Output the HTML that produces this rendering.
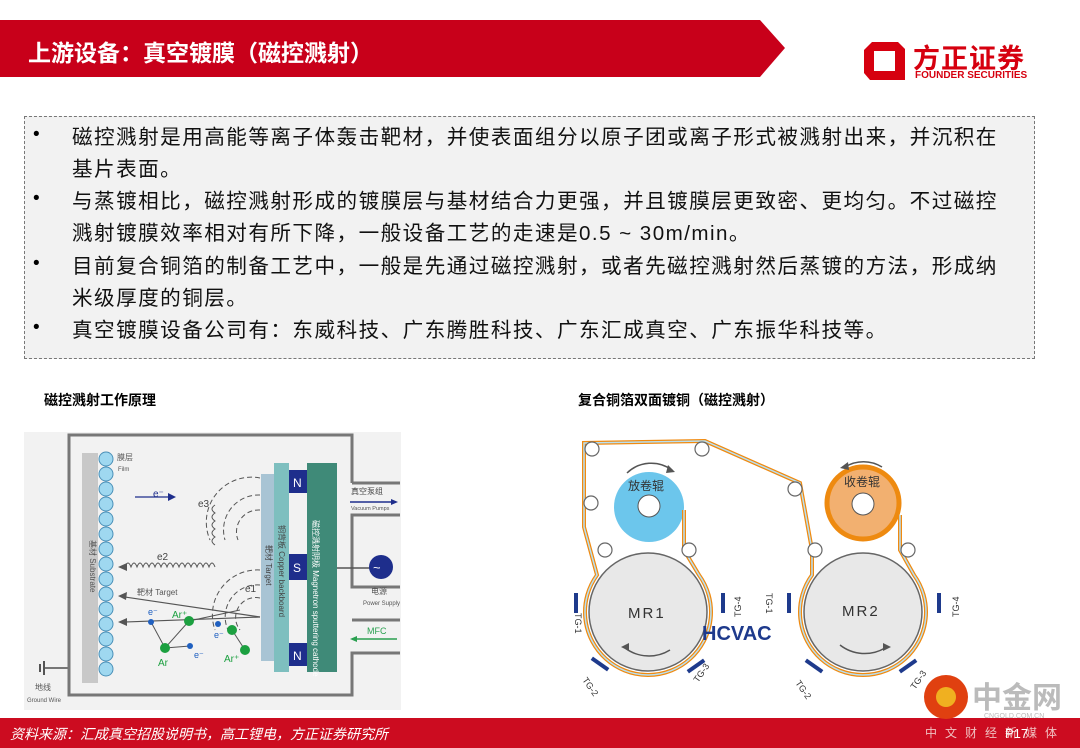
<!DOCTYPE html>
<html><head><meta charset="utf-8"><style>
*{margin:0;padding:0;box-sizing:border-box}
body{width:1080px;height:748px;position:relative;background:#fff;font-family:"Liberation Sans","Noto Sans CJK SC",sans-serif;overflow:hidden}
.abs{position:absolute}
.box{left:24px;top:116px;width:1011px;height:243px;background:#f2f2f2;border:1.5px dashed #777}
.li{position:absolute;left:72px;font-size:20.6px;color:#111;line-height:32px;width:970px;white-space:nowrap;letter-spacing:1.45px}
.dot{position:absolute;left:33px;font-size:19px}
</style></head><body>
<svg class="abs" style="left:0;top:0" width="1080" height="748">
<polygon points="0,20 760,20 785,48 760,77 0,77" fill="#c8001a"/>
<rect x="0" y="718" width="1080" height="30" fill="#cc0c20"/>
<polygon points="872,42 898,42 905,49 905,80 870,80 864,73 864,50" fill="#d6000f"/>
<rect x="874" y="51" width="21" height="20" fill="#fff"/>
</svg>
<div class="abs" style="left:28px;top:34px;color:#fff;font-size:23px;font-weight:bold">上游设备：真空镀膜（磁控溅射）</div>
<div class="abs" style="left:913px;top:37px;color:#d6000f;font-size:27px;font-weight:bold;letter-spacing:1px">方正证券</div>
<div class="abs" style="left:915px;top:70px;color:#d6000f;font-size:10px;font-weight:bold">FOUNDER SECURITIES</div>
<div class="abs box"></div>
<div class="dot" style="top:124px">•</div>
<div class="li" style="top:122px">磁控溅射是用高能等离子体轰击靶材，并使表面组分以原子团或离子形式被溅射出来，并沉积在<br>基片表面。</div>
<div class="dot" style="top:188px">•</div>
<div class="li" style="top:186px">与蒸镀相比，磁控溅射形成的镀膜层与基材结合力更强，并且镀膜层更致密、更均匀。不过磁控<br>溅射镀膜效率相对有所下降，一般设备工艺的走速是0.5 ~ 30m/min。</div>
<div class="dot" style="top:253px">•</div>
<div class="li" style="top:251px">目前复合铜箔的制备工艺中，一般是先通过磁控溅射，或者先磁控溅射然后蒸镀的方法，形成纳<br>米级厚度的铜层。</div>
<div class="dot" style="top:317px">•</div>
<div class="li" style="top:315px">真空镀膜设备公司有：东威科技、广东腾胜科技、广东汇成真空、广东振华科技等。</div>
<div class="abs" style="left:44px;top:390px;font-size:14px;font-weight:bold">磁控溅射工作原理</div>
<div class="abs" style="left:578px;top:390px;font-size:14px;font-weight:bold">复合铜箔双面镀铜（磁控溅射）</div>

<svg class="abs" style="left:0;top:0" width="1080" height="748" font-family="Liberation Sans,Noto Sans CJK SC,sans-serif">
<rect x="24" y="432" width="377" height="278" fill="#f2f2f2"/>
<polyline points="352,483 352,435 69,435 69,695 352,695 352,653 400,653" fill="none" stroke="#777" stroke-width="3"/>
<polyline points="352,620 400,620" stroke="#777" stroke-width="3"/>
<polyline points="400,483 352,483" stroke="#777" stroke-width="3"/>
<polyline points="400,515 352,515 352,587 400,587" fill="none" stroke="#777" stroke-width="3"/>
<line x1="45" y1="668" x2="69" y2="668" stroke="#777" stroke-width="2"/>
<line x1="44" y1="661" x2="44" y2="675" stroke="#555" stroke-width="2"/>
<line x1="40" y1="664" x2="40" y2="672" stroke="#555" stroke-width="2"/>
<text x="35" y="690" font-size="8" fill="#555">地线</text><text x="27" y="702" font-size="6" fill="#555">Ground Wire</text>
<rect x="82" y="453" width="16" height="230" fill="#c8c8c8"/>
<g fill="#9fd8f0" stroke="#4a90b8" stroke-width="1">
<circle cx="106" cy="459" r="7"/><circle cx="106" cy="474" r="7"/><circle cx="106" cy="489" r="7"/><circle cx="106" cy="504" r="7"/><circle cx="106" cy="519" r="7"/><circle cx="106" cy="534" r="7"/><circle cx="106" cy="549" r="7"/><circle cx="106" cy="564" r="7"/><circle cx="106" cy="579" r="7"/><circle cx="106" cy="594" r="7"/><circle cx="106" cy="609" r="7"/><circle cx="106" cy="624" r="7"/><circle cx="106" cy="639" r="7"/><circle cx="106" cy="654" r="7"/><circle cx="106" cy="669" r="7"/></g>
<text x="117" y="460" font-size="8" fill="#555">膜层</text><text x="118" y="471" font-size="6" fill="#555">Film</text>
<rect x="261" y="474" width="13" height="187" fill="#a8c4d4"/>
<rect x="274" y="463" width="15" height="209" fill="#7ebfbf"/>
<rect x="289" y="470" width="18" height="23" fill="#1e2e8c"/><rect x="289" y="554" width="18" height="26" fill="#1e2e8c"/><rect x="289" y="643" width="18" height="23" fill="#1e2e8c"/>
<text x="293" y="487" font-size="12" fill="#fff">N</text><text x="293" y="572" font-size="12" fill="#fff">S</text><text x="293" y="660" font-size="12" fill="#fff">N</text>
<rect x="307" y="463" width="30" height="209" fill="#3f8a78"/>
<line x1="337" y1="568" x2="370" y2="568" stroke="#555" stroke-width="1.5"/>
<circle cx="381" cy="567" r="12" fill="#1e2e8c"/><text x="373" y="572" font-size="13" fill="#fff">~</text>
<text x="371" y="594" font-size="8" fill="#555">电源</text><text x="363" y="605" font-size="6" fill="#555">Power Supply</text>
<text x="351" y="494" font-size="8" fill="#444">真空泵组</text><line x1="350" y1="502" x2="395" y2="502" stroke="#1e2e8c" stroke-width="1.5"/><polygon points="398,502 391,499 391,505" fill="#1e2e8c"/>
<text x="351" y="510" font-size="5.5" fill="#555">Vacuum Pumps</text>
<text x="367" y="634" font-size="9" fill="#2aa050">MFC</text><line x1="352" y1="639" x2="397" y2="639" stroke="#2aa050" stroke-width="1.5"/><polygon points="350,639 357,636 357,642" fill="#2aa050"/>
<text x="153" y="497" font-size="10" fill="#1e2e8c">e⁻</text><line x1="135" y1="497" x2="170" y2="497" stroke="#1e2e8c" stroke-width="1.2"/><polygon points="176,497 168,493 168,501" fill="#1e2e8c"/>
<g fill="none" stroke="#555" stroke-dasharray="5,3" stroke-width="1">
<path d="M260,478 A45,45 0 0 0 210,540"/><path d="M260,495 A35,35 0 0 0 225,540"/><path d="M260,510 A22,22 0 0 0 238,540"/>
<path d="M260,570 A45,45 0 0 0 215,630"/><path d="M260,585 A32,32 0 0 0 228,630"/><path d="M260,598 A20,20 0 0 0 240,630"/></g>
<path d="M125,567 q3,-8 6,0 q3,-8 6,0 q3,-8 6,0 q3,-8 6,0 q3,-8 6,0 q3,-8 6,0 q3,-8 6,0 q3,-8 6,0 q3,-8 6,0 q3,-8 6,0 q3,-8 6,0 q3,-8 6,0 q3,-8 6,0 q3,-8 6,0 q3,-8 6,0" fill="none" stroke="#555"/>
<polygon points="118,567 127,563 127,571" fill="#555"/>
<text x="157" y="560" font-size="10" fill="#444">e2</text><text x="198" y="507" font-size="10" fill="#444">e3</text><text x="245" y="592" font-size="10" fill="#444">e1</text>
<path d="M215,505 q-6,4 0,8 q-6,4 0,8 q-6,4 0,8 q-6,4 0,8 q-6,4 0,8" fill="none" stroke="#555"/>
<line x1="260" y1="617" x2="125" y2="597" stroke="#555" stroke-width="1.2"/><polygon points="118,596 127,592 126,600" fill="#555"/>
<text x="137" y="595" font-size="8" fill="#555">靶材 Target</text>
<line x1="260" y1="617" x2="125" y2="622" stroke="#555" stroke-width="1.2"/><polygon points="118,622 127,618 127,626" fill="#555"/>
<polyline points="151,622 165,648 189,621 240,610" fill="none" stroke="#555"/><line x1="165" y1="648" x2="190" y2="646" stroke="#555"/>
<polyline points="232,630 245,650" fill="none" stroke="#555"/>
<g fill="#1ca040"><circle cx="165" cy="648" r="5"/><circle cx="189" cy="621" r="5"/><circle cx="232" cy="630" r="5"/><circle cx="245" cy="650" r="5"/></g>
<g fill="#2060c0"><circle cx="151" cy="622" r="3"/><circle cx="190" cy="646" r="3"/><circle cx="218" cy="624" r="3"/></g>
<text x="158" y="666" font-size="10" fill="#1ca040">Ar</text><text x="172" y="618" font-size="10" fill="#1ca040">Ar⁺</text><text x="224" y="662" font-size="10" fill="#1ca040">Ar⁺</text>
<text x="148" y="615" font-size="9" fill="#2060c0">e⁻</text><text x="194" y="658" font-size="9" fill="#2060c0">e⁻</text><text x="214" y="638" font-size="9" fill="#2060c0">e⁻</text>
<text transform="translate(90,540) rotate(90)" font-size="8" fill="#555">基材  Substrate</text>
<text transform="translate(266,545) rotate(90)" font-size="8" fill="#444">靶材  Target</text>
<text transform="translate(279,525) rotate(90)" font-size="8" fill="#444">铜背板 Copper backboard</text>
<text transform="translate(313,520) rotate(90)" font-size="8" fill="#fff">磁控溅射阴极 Magnetron sputtering cathode</text>

<circle cx="649" cy="507" r="35" fill="#6cc6ec"/><circle cx="649" cy="506" r="11" fill="#fff" stroke="#555"/>
<circle cx="863" cy="503" r="36" fill="#f2b070" stroke="#ee8a10" stroke-width="5"/><circle cx="863" cy="504" r="11" fill="#fff" stroke="#555"/>
<text x="628" y="490" font-size="12" fill="#333">放卷辊</text><text x="844" y="486" font-size="12" fill="#333">收卷辊</text>
<circle cx="648" cy="612" r="59" fill="#e8e8e8" stroke="#666" stroke-width="1.5"/>
<circle cx="863" cy="612" r="59" fill="#e8e8e8" stroke="#666" stroke-width="1.5"/>
<path d="M684,510 L684,550 L699,575 A63,63 0 1 1 597,575 L584,527 L584,443 L705,441 L800,483 L812,550 L812,575 A63,63 0 1 0 914,575 L900,550 L900,515" fill="none" stroke="#f08a10" stroke-width="4"/>
<path d="M684,510 L684,550 L699,575 A63,63 0 1 1 597,575 L584,527 L584,443 L705,441 L800,483 L812,550 L812,575 A63,63 0 1 0 914,575 L900,550 L900,515" fill="none" stroke="#b8e0f2" stroke-width="1.5"/>
<g fill="#fff" stroke="#666" stroke-width="1.2"><circle cx="592" cy="449" r="7"/><circle cx="702" cy="449" r="7"/><circle cx="591" cy="503" r="7"/><circle cx="795" cy="489" r="7"/><circle cx="605" cy="550" r="7"/><circle cx="689" cy="550" r="7"/><circle cx="815" cy="550" r="7"/><circle cx="908" cy="550" r="7"/></g>
<text x="628" y="618" font-size="15" fill="#333" letter-spacing="2">MR1</text><text x="842" y="616" font-size="15" fill="#333" letter-spacing="2">MR2</text>
<text x="702" y="640" font-size="20" font-weight="bold" fill="#1e3a8c">HCVAC</text>
<g fill="#1e3a8c"><rect x="574" y="593" width="4" height="20"/><rect x="721" y="593" width="4" height="20"/><rect x="787" y="593" width="4" height="20"/><rect x="937" y="593" width="4" height="20"/>
<rect x="598" y="654" width="4" height="20" transform="rotate(-55 600 664)"/><rect x="694" y="656" width="4" height="20" transform="rotate(55 696 666)"/><rect x="812" y="656" width="4" height="20" transform="rotate(-55 814 666)"/><rect x="906" y="656" width="4" height="20" transform="rotate(55 908 666)"/></g>
<g font-size="9" fill="#333"><text transform="translate(575,613) rotate(90)">TG-1</text><text transform="translate(741,617) rotate(-90)">TG-4</text><text transform="translate(766,593) rotate(90)">TG-1</text><text transform="translate(959,617) rotate(-90)">TG-4</text>
<text transform="translate(582,680) rotate(55)">TG-2</text><text transform="translate(698,683) rotate(-55)">TG-3</text><text transform="translate(795,683) rotate(55)">TG-2</text><text transform="translate(915,690) rotate(-55)">TG-3</text></g>
<g fill="none" stroke="#555" stroke-width="1.5"><path d="M627,473 A35,35 0 0 1 672,470"/><path d="M882,467 A35,35 0 0 0 845,467"/><path d="M670,650 A40,40 0 0 1 625,648"/><path d="M840,645 A40,40 0 0 0 885,648"/></g>
<g fill="#555"><polygon points="675,472 668,465 666,473"/><polygon points="840,468 848,462 849,470"/><polygon points="621,647 629,643 629,651"/><polygon points="891,647 883,643 883,651"/></g>
<circle cx="946" cy="697" r="22" fill="#e04010"/><circle cx="946" cy="697" r="10" fill="#f0b020"/>
<text x="972" y="708" font-size="30" fill="#bbb" font-weight="bold">中金网</text>
<text x="984" y="718" font-size="7" fill="#bbb">CNGOLD.COM.CN</text>
</svg>
<div class="abs" style="left:10px;top:724px;color:#fff;font-size:14px;font-style:italic">资料来源：汇成真空招股说明书，高工锂电，方正证券研究所</div>
<div class="abs" style="left:925px;top:724px;color:#f0c0c0;font-size:12px;letter-spacing:8px">中文财经新媒体</div>
<div class="abs" style="left:1005px;top:726px;color:#fff;font-size:13px">P17</div>
</body></html>
